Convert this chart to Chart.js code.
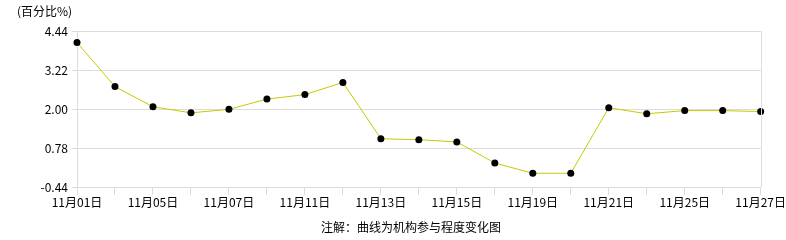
<!DOCTYPE html>
<html><head><meta charset="utf-8">
<script src="https://cdn.jsdelivr.net/npm/chart.js@4/dist/chart.umd.min.js"></script>
<style>html,body{margin:0;padding:0;background:#fff}#wrap{width:786px;height:240px;position:relative}</style>
</head><body><div id="wrap"><canvas id="c" width="786" height="240"></canvas></div>
<script>
const categories = ['11月01日','11月04日','11月05日','11月06日','11月07日','11月08日','11月11日','11月12日','11月13日','11月14日','11月15日','11月18日','11月19日','11月20日','11月21日','11月22日','11月25日','11月26日','11月27日'];
const values = [4.08, 2.70, 2.07, 1.88, 1.99, 2.31, 2.45, 2.83, 1.07, 1.04, 0.97, 0.31, -0.01, -0.01, 2.04, 1.85, 1.95, 1.95, 1.92];
const yTicks = [-0.44, 0.78, 2.00, 3.22, 4.44];
const unitLabel = '(百分比%)';
const footNote = '注解：曲线为机构参与程度变化图';
const FONT = '"Noto Sans CJK SC", "DejaVu Sans", sans-serif';

const extras = {
  id: 'extras',
  afterDraw(chart) {
    const ctx = chart.ctx, a = chart.chartArea;
    ctx.save();
    ctx.strokeStyle = '#dcdcdc'; ctx.lineWidth = 1;
    ctx.beginPath(); ctx.moveTo(Math.round(a.right) + 0.5, a.top); ctx.lineTo(Math.round(a.right) + 0.5, a.bottom); ctx.stroke();
    ctx.fillStyle = '#000';
    ctx.font = '12px ' + FONT;
    ctx.textBaseline = 'middle';
    ctx.textAlign = 'left';
    ctx.fillText(unitLabel, 17, 11);
    ctx.textAlign = 'center';
    ctx.fillText(footNote, 411, 227);
    ctx.restore();
  }
};

new Chart(document.getElementById('c'), {
  type: 'line',
  data: { labels: categories, datasets: [{
    data: values, borderColor: '#c8c800', borderWidth: 1, tension: 0,
    pointRadius: 3.5, pointBackgroundColor: '#000', pointBorderColor: '#000', pointBorderWidth: 0
  }]},
  options: {
    responsive: false, animation: false, devicePixelRatio: 1,
    layout: { padding: { top: 31, right: 25, left: 0, bottom: 0 } },
    plugins: { legend: { display: false }, tooltip: { enabled: false } },
    scales: {
      x: {
        type: 'category', offset: false,
        grid: { display: true, drawOnChartArea: false, drawTicks: true, tickLength: 8, color: '#dcdcdc' },
        border: { display: true, color: '#dcdcdc' },
        ticks: { autoSkip: false, maxRotation: 0, minRotation: 0, padding: 0, color: '#000',
          font: { family: FONT, size: 12 },
          callback: (v, i) => i % 2 === 0 ? categories[i] : '' },
        afterFit: s => { s.height = 53; }
      },
      y: {
        min: yTicks[0], max: yTicks[yTicks.length - 1],
        afterBuildTicks: s => { s.ticks = yTicks.map(v => ({ value: v })); },
        grid: { color: '#dcdcdc', tickLength: 5 },
        border: { display: true, color: '#dcdcdc' },
        ticks: { color: '#000', padding: 4, font: { family: FONT, size: 12 },
          callback: v => Number(v).toFixed(2) },
        afterFit: s => { s.width = 77; }
      }
    }
  },
  plugins: [extras]
});
</script></body></html>
